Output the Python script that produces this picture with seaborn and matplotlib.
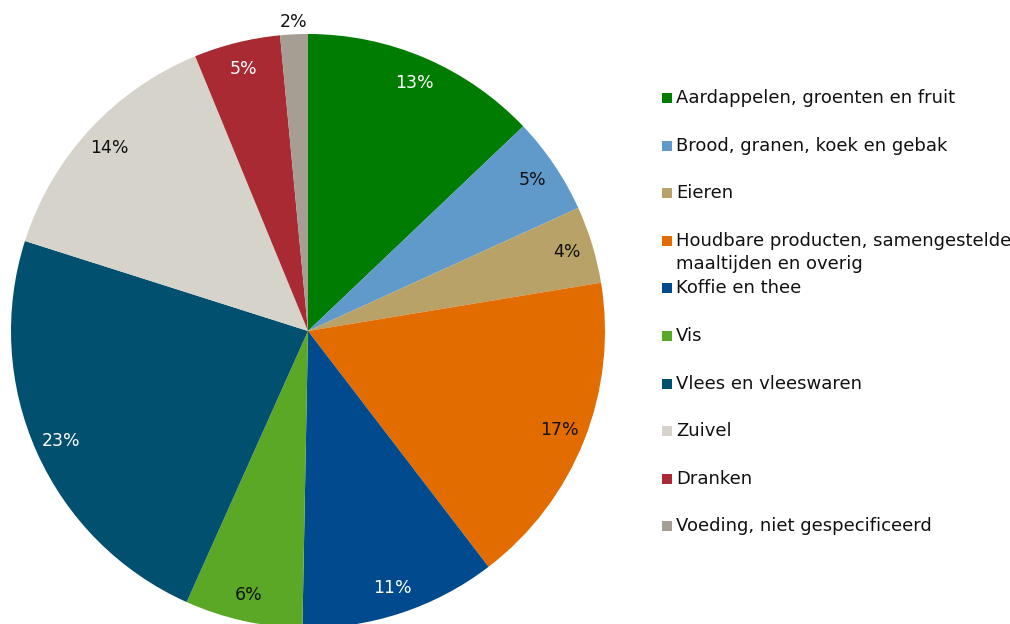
import matplotlib
matplotlib.use("Agg")
import matplotlib.pyplot as plt
import seaborn as sns
from matplotlib.patches import Rectangle

sns.set_theme(style="white")
plt.rcParams['font.family'] = ['DejaVu Sans']

categories = [
    "Aardappelen, groenten en fruit",
    "Brood, granen, koek en gebak",
    "Eieren",
    "Houdbare producten, samengestelde\nmaaltijden en overig",
    "Koffie en thee",
    "Vis",
    "Vlees en vleeswaren",
    "Zuivel",
    "Dranken",
    "Voeding, niet gespecificeerd",
]
values = [12.9, 5.3, 4.2, 17.2, 10.7, 6.4, 23.2, 13.9, 4.7, 1.5]
colors = ["#007C00", "#5F9ACB", "#B8A267", "#E36C00", "#004A8D",
          "#5BA826", "#02506F", "#D6D3CB", "#A92A33", "#A69E92"]
label_colors = ["white", "#111111", "#111111", "#111111", "white",
                "#111111", "white", "#111111", "white", "#111111"]

W, H = 1010, 624
fig = plt.figure(figsize=(W / 100, H / 100), dpi=100)
cx, cy, r = 308, 331, 297
ax = fig.add_axes([(cx - r) / W, (H - cy - r) / H, 2 * r / W, 2 * r / H])

wedges, texts, autotexts = ax.pie(
    values, colors=colors, startangle=90, counterclock=False,
    autopct='%.0f%%', pctdistance=0.91, radius=1.0,
    wedgeprops=dict(linewidth=0),
    textprops=dict(fontsize=12.5),
)
for t, c in zip(autotexts, label_colors):
    t.set_color(c)
# smallest slice label sits just outside the pie
x, y = autotexts[-1].get_position()
autotexts[-1].set_position((x * 1.04 / 0.91, y * 1.04 / 0.91))
ax.set_xlim(-1, 1)
ax.set_ylim(-1, 1)
ax.set_aspect('equal')
ax.axis('off')

# legend
x_sq, sq, x_txt = 662, 10, 676
y0, step = 98, 47.6
for i, (lab, col) in enumerate(zip(categories, colors)):
    yc = y0 + step * i
    fig.add_artist(Rectangle((x_sq / W, (H - yc - sq / 2) / H), sq / W, sq / H,
                             transform=fig.transFigure, facecolor=col, edgecolor='none'))
    for k, line in enumerate(lab.split("\n")):
        fig.text(x_txt / W, (H - yc - 23 * k) / H, line, fontsize=13,
                 color="#111111", va='center', ha='left')

fig.savefig("out.png", dpi=100)
